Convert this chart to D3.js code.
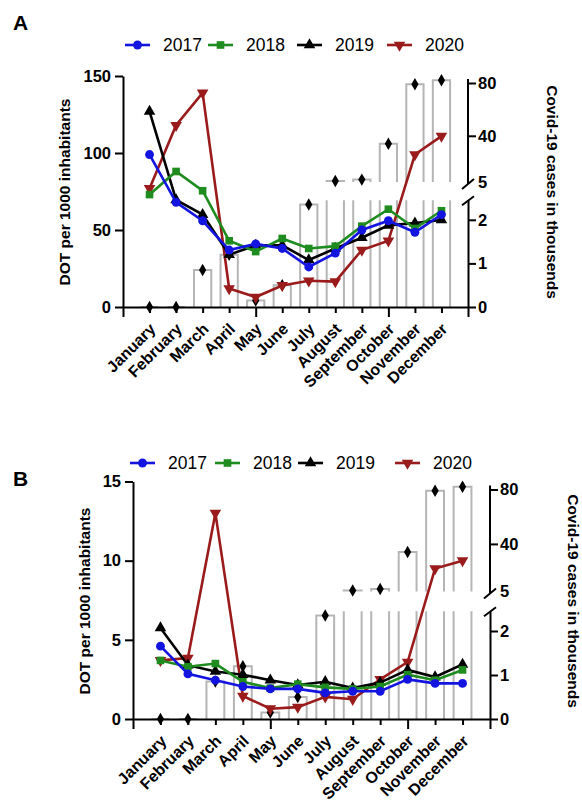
<!DOCTYPE html>
<html>
<head>
<meta charset="utf-8">
<script src="https://cdn.jsdelivr.net/npm/d3@7"></script>
<style>
body { margin: 0; background: #fff; }
svg { font-family: Arial, "Liberation Sans", sans-serif; }
</style>
</head>
<body>
<svg width="582" height="805"></svg>
<script>
var months = ["January", "February", "March", "April", "May", "June", "July",
    "August", "September", "October", "November", "December"];
var years = ["2017", "2018", "2019", "2020"];
var colors = ["#1414e0", "#1e8c1e", "#000000", "#9a1b1b"];

// covid-19 cases in thousands (bars, right axis)
var covidCases = [0, 0, 0.85, 1.2, 0.15, 0.5, 2.35, 5.8, 6.8, 34, 79, 82];

// panel A, DOT per 1000 inhabitants
var dotA2017 = [99, 68, 56, 37, 41, 38, 26, 35, 50, 56, 48.5, 60];
var dotA2018 = [73, 88, 75.5, 43, 36, 44.5, 38, 39.5, 52.5, 63.5, 51, 62.5];
var dotA2019 = [127, 69.5, 60, 34, 40, 40, 30.5, 38, 45, 53, 54.5, 56.5];
var dotA2020 = [77, 118, 139, 12, 6.5, 14, 17, 16.5, 37, 43, 99, 111];

// panel B
var dotB2017 = [4.6, 2.85, 2.45, 2.05, 1.9, 1.9, 1.65, 1.75, 1.75, 2.5, 2.25, 2.25];
var dotB2018 = [3.7, 3.3, 3.5, 2.35, 1.95, 2.2, 2.0, 1.9, 2.05, 2.8, 2.45, 3.1];
var dotB2019 = [5.75, 3.4, 3.0, 2.8, 2.45, 2.15, 2.35, 1.95, 2.3, 3.1, 2.65, 3.45];
var dotB2020 = [3.7, 3.85, 13, 1.45, 0.65, 0.75, 1.4, 1.25, 2.5, 3.6, 9.5, 10];

var leftTicksA = [0, 50, 100, 150];
var leftTicksB = [0, 5, 10, 15];
var lowTicks = [0, 1, 2];
var highTicks = [5, 40, 80];
var lowMax = 2.45;

var svg = d3.select('svg');

var symbols = [d3.symbolCircle, d3.symbolSquare, d3.symbolTriangle, d3.symbolTriangle];
var symbolSizes = [62, 58, 58, 58];
var symbolRot = [0, 0, 0, 180];

function drawPanel(p, series) {
    var g = svg.append('g');

    var x = d3.scalePoint().domain(months).range([p.left, p.right]).padding(1);
    var y = d3.scaleLinear().domain([0, p.yMax]).range([p.base, p.top]);
    var covLow = d3.scaleLinear().domain([0, lowMax]).range([p.base, p.base - lowMax * p.lowUnit]);
    var covHigh = d3.scaleLinear().domain([5, 80]).range([p.high5, p.high80]);
    var bw = x.step() * 0.65;

    // bars
    g.selectAll('.bar')
        .data(covidCases)
        .enter()
        .append('path')
        .attr('class', 'bar')
        .attr('d', function (d, i) {
            var x0 = x(months[i]) - bw / 2, x1 = x0 + bw;
            if (d <= lowMax) {
                return 'M' + x0 + ',' + p.base + 'V' + covLow(d) + 'H' + x1 + 'V' + p.base;
            }
            return 'M' + x0 + ',' + p.base + 'V' + covLow(lowMax)
                + 'M' + x1 + ',' + p.base + 'V' + covLow(lowMax)
                + 'M' + x0 + ',' + covHigh(5) + 'V' + covHigh(d) + 'H' + x1 + 'V' + covHigh(5);
        })
        .attr('fill', 'none')
        .attr('stroke', '#b5b5b5')
        .attr('stroke-width', 2);

    g.selectAll('.dia')
        .data(covidCases)
        .enter()
        .append('path')
        .attr('class', 'dia')
        .attr('d', d3.symbol().type(d3.symbolDiamond).size(45))
        .attr('transform', function (d, i) {
            var yy = d <= lowMax ? covLow(d) : covHigh(d);
            return 'translate(' + x(months[i]) + ',' + yy + ')';
        })
        .attr('fill', '#000');

    // lines, 2017 on top
    var line = d3.line()
        .x(function (d, i) { return x(months[i]); })
        .y(function (d) { return y(d); });

    for (var k = series.length - 1; k >= 0; k--) {
        g.append('path')
            .datum(series[k])
            .attr('d', line)
            .attr('fill', 'none')
            .attr('stroke', colors[k])
            .attr('stroke-width', 2.6);

        g.selectAll('.m' + k)
            .data(series[k])
            .enter()
            .append('path')
            .attr('class', 'm' + k)
            .attr('d', d3.symbol().type(symbols[k]).size(symbolSizes[k]))
            .attr('transform', function (d, i) {
                return 'translate(' + x(months[i]) + ',' + y(d) + ')rotate(' + symbolRot[k] + ')';
            })
            .attr('fill', colors[k]);
    }

    // axes
    var leftAxis = g.append('g')
        .attr('transform', 'translate(' + p.left + ',0)')
        .call(d3.axisLeft(y).tickValues(p.leftTicks).tickSize(8).tickSizeOuter(0).tickPadding(4));

    var xAxis = g.append('g')
        .attr('transform', 'translate(0,' + p.base + ')')
        .call(d3.axisBottom(x).tickSize(6).tickSizeOuter(10).tickFormat(''));
    xAxis.selectAll('.tick line')
        .attr('y2', function (d) { return (d == 'May' || d == 'October') ? 10 : 6; });

    var lowAxis = g.append('g')
        .attr('transform', 'translate(' + p.right + ',0)')
        .call(d3.axisRight(covLow).tickValues(lowTicks).tickFormat(d3.format('d'))
            .tickSize(8).tickSizeOuter(0).tickPadding(2));

    var highScaleAxis = d3.scaleLinear().domain([5, 83]).range([p.high5, covHigh(83)]);
    var highAxis = g.append('g')
        .attr('transform', 'translate(' + p.right + ',0)')
        .call(d3.axisRight(highScaleAxis).tickValues(highTicks).tickFormat(d3.format('d'))
            .tickSize(8).tickSizeOuter(0).tickPadding(2));
    highAxis.selectAll('.tick line').filter(function (d) { return d == 5; }).attr('x2', 0);
    highAxis.select('.domain').attr('d', 'M0,' + (p.high5 + 2) + 'V' + covHigh(83));

    [leftAxis, xAxis, lowAxis, highAxis].forEach(function (a) {
        a.attr('font-family', null).attr('font-size', 16.5).attr('font-weight', 'bold');
        a.selectAll('path, line').attr('stroke', '#000').attr('stroke-width', 2);
        a.selectAll('text').attr('fill', '#000');
    });

    // break marks
    g.append('line')
        .attr('x1', p.right - 6).attr('y1', p.high5 + 7)
        .attr('x2', p.right + 6).attr('y2', p.high5 - 3)
        .attr('stroke', '#000').attr('stroke-width', 2);
    g.append('line')
        .attr('x1', p.right - 6).attr('y1', covLow(lowMax) + 5)
        .attr('x2', p.right + 6).attr('y2', covLow(lowMax) - 4)
        .attr('stroke', '#000').attr('stroke-width', 2);

    // month labels
    g.selectAll('.month')
        .data(months)
        .enter()
        .append('text')
        .attr('class', 'month')
        .attr('transform', function (d) {
            return 'translate(' + (x(d) + 7) + ',' + (p.base + 23) + ')rotate(-45)';
        })
        .attr('text-anchor', 'end')
        .attr('font-size', 16)
        .attr('font-weight', 'bold')
        .text(function (d) { return d; });

    // titles
    g.append('text')
        .text('DOT per 1000 inhabitants')
        .attr('transform', 'translate(' + p.yTitleX + ',' + p.titleY + ')rotate(-90)')
        .attr('text-anchor', 'middle')
        .attr('dy', '0.35em')
        .attr('font-size', 15.5)
        .attr('font-weight', 'bold');

    g.append('text')
        .text('Covid-19 cases in thousends')
        .attr('transform', 'translate(' + p.covTitleX + ',' + p.titleY + ')rotate(90)')
        .attr('text-anchor', 'middle')
        .attr('dy', '0.35em')
        .attr('font-size', 15.5)
        .attr('font-weight', 'bold');

    g.append('text')
        .text(p.label)
        .attr('x', 13)
        .attr('y', p.labelY)
        .attr('font-size', 21)
        .attr('font-weight', 'bold');

    // legend
    years.forEach(function (yr, k) {
        var lx = p.legendX[k];
        g.append('line')
            .attr('x1', lx).attr('x2', lx + 25)
            .attr('y1', p.legendY).attr('y2', p.legendY)
            .attr('stroke', colors[k]).attr('stroke-width', 2.6);
        g.append('path')
            .attr('d', d3.symbol().type(symbols[k]).size(symbolSizes[k]))
            .attr('transform', 'translate(' + (lx + 12.5) + ',' + p.legendY + ')rotate(' + symbolRot[k] + ')')
            .attr('fill', colors[k]);
        g.append('text')
            .text(yr)
            .attr('x', lx + 38)
            .attr('y', p.legendY)
            .attr('dy', '0.36em')
            .attr('font-size', 17.5);
    });
}

drawPanel({
    label: 'A', labelY: 30,
    left: 123, right: 468, base: 307, top: 76, yMax: 150, leftTicks: leftTicksA,
    lowUnit: 43.6, high5: 182, high80: 83,
    yTitleX: 65, covTitleX: 552, titleY: 192,
    legendX: [125, 208, 297, 387], legendY: 45
}, [dotA2017, dotA2018, dotA2019, dotA2020]);

drawPanel({
    label: 'B', labelY: 486,
    left: 133, right: 490, base: 719, top: 481.5, yMax: 15, leftTicks: leftTicksB,
    lowUnit: 44, high5: 591.5, high80: 489.5,
    yTitleX: 85, covTitleX: 573, titleY: 601,
    legendX: [130, 215, 298, 395], legendY: 463
}, [dotB2017, dotB2018, dotB2019, dotB2020]);
</script>
</body>
</html>
